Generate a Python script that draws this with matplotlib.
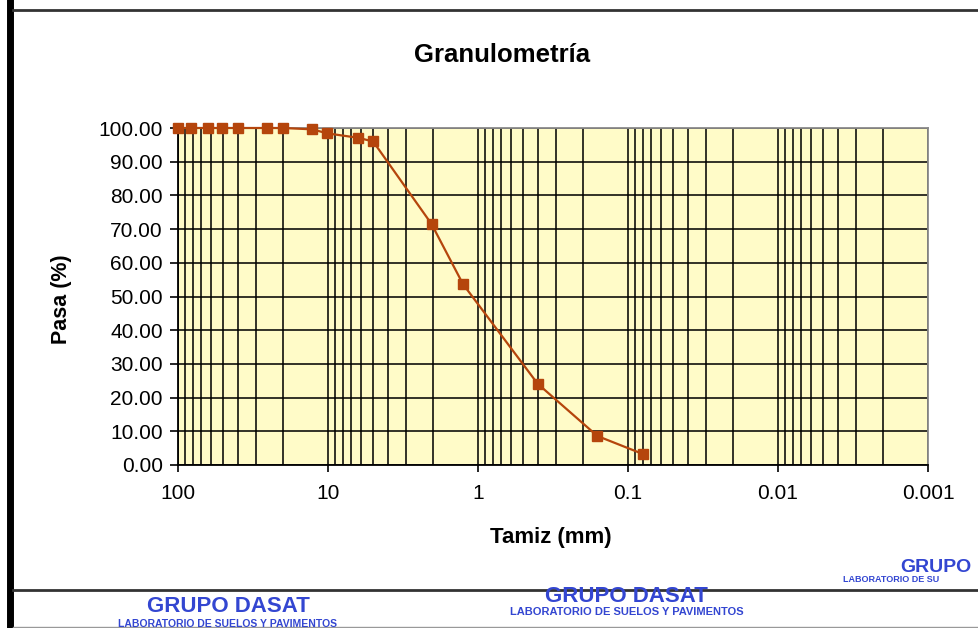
import matplotlib
matplotlib.use("Agg")
import matplotlib.pyplot as plt
from matplotlib.ticker import LogLocator, NullFormatter, FixedLocator, FixedFormatter, MultipleLocator, FormatStrFormatter
from matplotlib.lines import Line2D

# ---- data ----
abertura_mm = [100, 82, 63.5, 50.8, 40, 25.4, 19.9, 12.7, 10.1, 6.3, 5.0, 2.04, 1.26, 0.40, 0.16, 0.08]
pasa_pct = [100.0, 100.0, 100.0, 100.0, 100.0, 100.0, 100.0, 99.6, 98.4, 97.1, 96.0, 71.5, 53.7, 24.1, 8.6, 3.3]

x_ticks = [100, 10, 1, 0.1, 0.01, 0.001]
x_tick_labels = ["100", "10", "1", "0.1", "0.01", "0.001"]

title = "Granulometría"
xlabel = "Tamiz (mm)"
ylabel = "Pasa (%)"

plt.rcParams['font.family'] = ['Liberation Sans', 'DejaVu Sans']

W, H = 979, 628
fig = plt.figure(figsize=(W / 100, H / 100), dpi=100)
fig.patch.set_facecolor("white")

left, right, top, bottom = 178, 928, 128, 465
ax = fig.add_axes([left / W, 1 - bottom / H, (right - left) / W, (bottom - top) / H])
ax.set_facecolor("#FFFBC8")

ax.set_xscale("log")
ax.set_xlim(100, 0.001)
ax.set_ylim(0, 100)

ax.xaxis.set_major_locator(FixedLocator(x_ticks))
ax.xaxis.set_major_formatter(FixedFormatter(x_tick_labels))
ax.xaxis.set_minor_locator(LogLocator(base=10, subs=range(2, 10), numticks=100))
ax.xaxis.set_minor_formatter(NullFormatter())
ax.yaxis.set_major_locator(MultipleLocator(10))
ax.yaxis.set_major_formatter(FormatStrFormatter("%.2f"))

ax.grid(True, which="both", axis="x", color="black", lw=1.4, alpha=0.8)
ax.grid(True, which="major", axis="y", color="black", lw=1.4, alpha=0.8)
ax.set_axisbelow(True)

ax.tick_params(axis="x", which="major", direction="out", length=5, width=1.2,
               labelsize=15, pad=9, colors="black")
ax.tick_params(axis="x", which="minor", length=0)
ax.tick_params(axis="y", which="major", direction="out", length=6, width=1.2,
               labelsize=15, pad=5, colors="black")

for s in ["left", "bottom"]:
    ax.spines[s].set_color("black")
    ax.spines[s].set_linewidth(1.3)
for s in ["top", "right"]:
    ax.spines[s].set_color("#8a8a8a")
    ax.spines[s].set_linewidth(1.3)

ax.plot(abertura_mm, pasa_pct, color="#B5450C", lw=1.6, marker="s", markersize=6.5,
        markerfacecolor="#B5450C", markeredgecolor="#B5450C", clip_on=False, zorder=5)

fig.text(502 / W, 1 - 55 / H, title, ha="center", va="center", fontsize=18.5, fontweight="bold")
fig.text(551 / W, 1 - 538 / H, xlabel, ha="center", va="center", fontsize=16, fontweight="bold")
fig.text(62 / W, 1 - 299 / H, ylabel, ha="center", va="center", fontsize=15.5, fontweight="bold", rotation=90)

# document frame lines
fig.add_artist(Line2D([10 / W, 10 / W], [0, 1], transform=fig.transFigure, color="black", lw=5))
fig.add_artist(Line2D([13 / W, 1], [1 - 10 / H, 1 - 10 / H], transform=fig.transFigure, color="#333333", lw=2))
fig.add_artist(Line2D([13 / W, 1], [1 - 590 / H, 1 - 590 / H], transform=fig.transFigure, color="#333333", lw=2))
fig.add_artist(Line2D([13 / W, 1], [1 - 627 / H, 1 - 627 / H], transform=fig.transFigure, color="#999999", lw=1))

# stamps
stamp_color = "#3346D1"
fig.text(228 / W, 1 - 607 / H, "GRUPO DASAT", ha="center", va="center", fontsize=16, fontweight="bold",
         color=stamp_color)
fig.text(228 / W, 1 - 624 / H, "LABORATORIO DE SUELOS Y PAVIMENTOS", ha="center", va="center", fontsize=7.5,
         fontweight="bold", color=stamp_color)
fig.text(626 / W, 1 - 596 / H, "GRUPO DASAT", ha="center", va="center", fontsize=16, fontweight="bold",
         color=stamp_color)
fig.text(627 / W, 1 - 612 / H, "LABORATORIO DE SUELOS Y PAVIMENTOS", ha="center", va="center", fontsize=8,
         fontweight="bold", color=stamp_color)
fig.text(900 / W, 1 - 567 / H, "GRUPO", ha="left", va="center", fontsize=14, fontweight="bold",
         color=stamp_color)
fig.text(843 / W, 1 - 580 / H, "LABORATORIO DE SU", ha="left", va="center", fontsize=6.5,
         fontweight="bold", color=stamp_color)

fig.savefig("out.png", dpi=100)
